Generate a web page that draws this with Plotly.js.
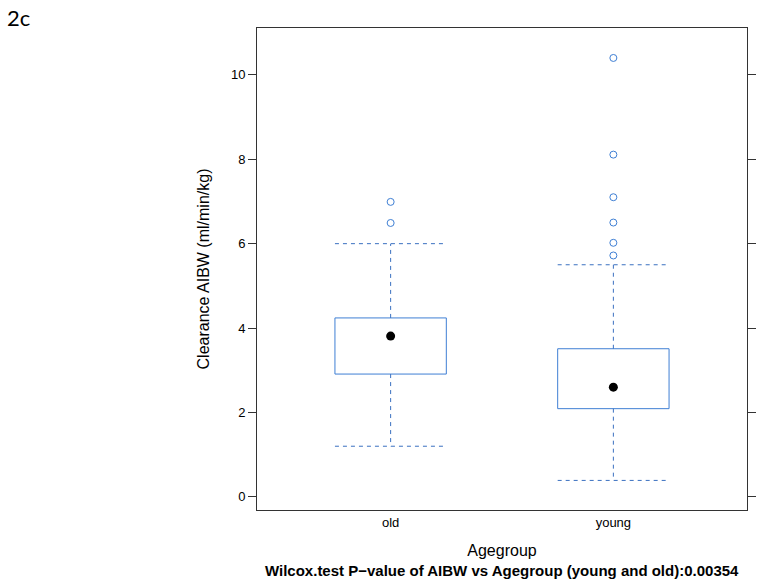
<!DOCTYPE html>
<html>
<head>
<meta charset="utf-8">
<script src="https://cdn.plot.ly/plotly-3.0.1.min.js"></script>
<style>html,body{margin:0;padding:0;background:#fff;}#chart{width:764px;height:588px;}</style>
</head>
<body>
<div id="chart"></div>
<script>
// Data
const categories = ["old", "young"];
const catPos = [1, 2];
const q1 = [2.91, 2.09];
const median = [3.81, 2.60];
const q3 = [4.24, 3.51];
const lowerWhisker = [1.20, 0.39];
const upperWhisker = [6.00, 5.50];
const outliersOld = [6.49, 6.99];
const outliersYoung = [5.72, 6.02, 6.50, 7.10, 8.11, 10.40];
const yTicks = [0, 2, 4, 6, 8, 10];

const boxColor = "#3f7fd4";
const half = 0.25;

const traces = [];
// box rectangles
const bx = [], by = [];
categories.forEach((c, i) => {
  const x0 = catPos[i] - half, x1 = catPos[i] + half;
  bx.push(x0, x1, x1, x0, x0, null);
  by.push(q1[i], q1[i], q3[i], q3[i], q1[i], null);
});
traces.push({x: bx, y: by, type: "scatter", mode: "lines",
  line: {color: boxColor, width: 1}, hoverinfo: "skip", showlegend: false});
// whiskers (dashed)
const wx = [], wy = [];
categories.forEach((c, i) => {
  const p = catPos[i];
  wx.push(p, p, null, p, p, null);
  wy.push(q3[i], upperWhisker[i], null, q1[i], lowerWhisker[i], null);
  wx.push(p - half, p + half, null, p - half, p + half, null);
  wy.push(upperWhisker[i], upperWhisker[i], null, lowerWhisker[i], lowerWhisker[i], null);
});
traces.push({x: wx, y: wy, type: "scatter", mode: "lines",
  line: {color: "#3a70c0", width: 1, dash: "4px,4px"}, hoverinfo: "skip", showlegend: false});
// outliers
const ox = [], oy = [];
outliersOld.forEach(v => { ox.push(catPos[0]); oy.push(v); });
outliersYoung.forEach(v => { ox.push(catPos[1]); oy.push(v); });
traces.push({x: ox, y: oy, type: "scatter", mode: "markers",
  marker: {symbol: "circle-open", size: 7, color: boxColor, line: {width: 1}},
  showlegend: false});
// medians
traces.push({x: catPos, y: median, type: "scatter", mode: "markers",
  marker: {symbol: "circle", size: 9, color: "#000"}, showlegend: false});

const layout = {
  width: 764, height: 588,
  margin: {l: 257, r: 17, t: 28, b: 78},
  paper_bgcolor: "#fff", plot_bgcolor: "#fff",
  font: {family: "Liberation Sans, Arial, sans-serif", color: "#000"},
  xaxis: {
    range: [0.4, 2.6], tickvals: catPos, ticktext: categories,
    ticks: "", showgrid: false, zeroline: false,
    showline: true, mirror: true, linecolor: "#333", linewidth: 1,
    tickfont: {size: 13, color: "#000"},
    title: {text: "Agegroup", font: {size: 16, color: "#000"}, standoff: 16}
  },
  yaxis: {
    range: [-0.311, 11.11], tickvals: yTicks,
    ticks: "outside", ticklen: 8, tickcolor: "#333", tickwidth: 1,
    showgrid: false, zeroline: false,
    showline: true, mirror: "ticks", linecolor: "#333", linewidth: 1,
    tickfont: {size: 13, color: "#000"},
    title: {text: "Clearance AIBW (ml/min/kg)", font: {size: 16, color: "#000"}, standoff: 17}
  },
  annotations: [
    {text: "<b>Wilcox.test P\u2212value of AIBW vs Agegroup (young and old):0.00354</b>",
     xref: "paper", yref: "paper", x: 0.5, y: 0, xanchor: "center", yanchor: "middle",
     yshift: -60, showarrow: false, font: {size: 15, color: "#000"}},
    {text: "2c", xref: "paper", yref: "paper", x: 0, y: 1, xanchor: "left", yanchor: "top",
     xshift: -252, yshift: 26, showarrow: false,
     font: {family: "Lato, Open Sans, sans-serif", size: 22, color: "#000"}}
  ]
};

Plotly.newPlot("chart", traces, layout, {displayModeBar: false, staticPlot: true});
</script>
</body>
</html>
